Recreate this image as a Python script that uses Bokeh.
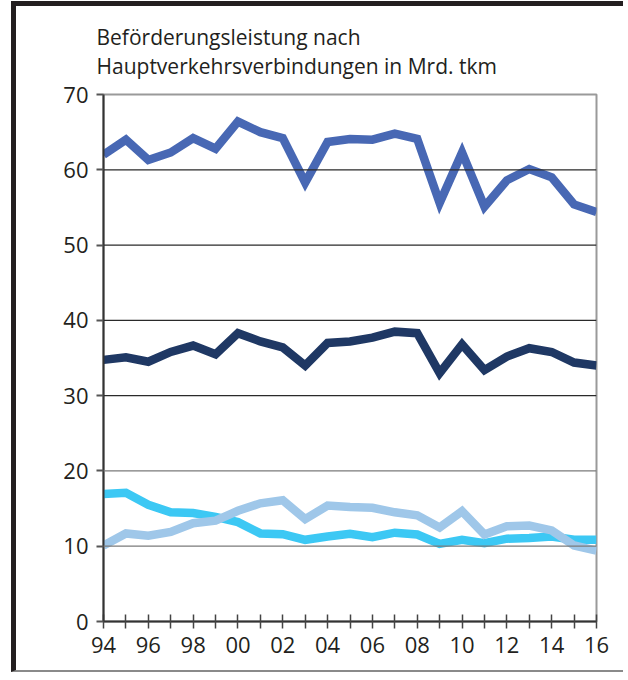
from bokeh.plotting import figure
from bokeh.models import FixedTicker, Span, Title
from bokeh.embed import file_html
from bokeh.resources import INLINE

years = list(range(1994, 2017))
x_tick_labels = {y: (f"{y % 100:02d}" if y % 2 == 0 else "") for y in years}
y_ticks = [0, 10, 20, 30, 40, 50, 60, 70]

series_a = [62.0, 64.0, 61.3, 62.3, 64.2, 62.8, 66.4, 65.0, 64.2, 58.3, 63.7, 64.1,
            64.0, 64.8, 64.1, 55.6, 62.3, 55.1, 58.6, 60.1, 59.0, 55.4, 54.4]
series_b = [34.75, 35.1, 34.5, 35.8, 36.65, 35.5, 38.3, 37.2, 36.4, 34.0, 37.0, 37.2,
            37.7, 38.5, 38.3, 33.0, 36.8, 33.4, 35.2, 36.3, 35.8, 34.4, 34.0]
series_c = [16.95, 17.1, 15.5, 14.5, 14.4, 13.9, 13.2, 11.7, 11.6, 10.85, 11.3, 11.65,
            11.2, 11.8, 11.55, 10.3, 10.85, 10.4, 11.0, 11.1, 11.3, 10.85, 10.85]
series_d = [10.1, 11.7, 11.4, 11.9, 13.05, 13.4, 14.7, 15.7, 16.1, 13.6, 15.4, 15.2,
            15.1, 14.5, 14.1, 12.5, 14.65, 11.55, 12.65, 12.75, 12.1, 10.1, 9.4]

title_lines = ["Beförderungsleistung nach", "Hauptverkehrsverbindungen in Mrd. tkm"]

FONT = "Open Sans"
TXT = "#231f20"
FS = "22px"

p = figure(width=612, height=671, output_backend="svg", toolbar_location=None,
           x_range=(1994, 2016), y_range=(0, 70), title=None,
           min_border_left=87, min_border_right=32, min_border_top=88, min_border_bottom=56)
p.styles = {"margin-left": "11px", "margin-top": "1px",
            "border-left": "5px solid #231f20", "border-top": "5px solid #231f20",
            "border-bottom": "2px solid #8a8a8a"}

p.background_fill_color = "white"
p.border_fill_color = "white"
p.outline_line_color = "#9a9a9a"
p.outline_line_width = 2

p.xgrid.grid_line_color = None
p.ygrid.grid_line_color = None
for v, c in zip(y_ticks[1:-1], ["#7a7a7a", "#7a7a7a", "#2a2a2a", "#2a2a2a", "#2a2a2a", "#2a2a2a"]):
    p.add_layout(Span(location=v, dimension="width", line_color=c, line_width=1.3))

p.yaxis.ticker = FixedTicker(ticks=y_ticks)
p.yaxis.axis_line_color = "#333333"
p.yaxis.axis_line_width = 2
p.yaxis.major_tick_in = 0
p.yaxis.major_tick_out = 7
p.yaxis.major_tick_line_color = "#555555"
p.yaxis.major_tick_line_width = 2
p.yaxis.minor_tick_line_color = None
p.yaxis.major_label_text_font = FONT
p.yaxis.major_label_text_font_size = FS
p.yaxis.major_label_text_color = TXT
p.yaxis.major_label_standoff = 8

p.xaxis.ticker = FixedTicker(ticks=years)
p.xaxis.major_label_overrides = x_tick_labels
p.xaxis.axis_line_color = "#333333"
p.xaxis.axis_line_width = 2
p.xaxis.major_tick_in = 7
p.xaxis.major_tick_out = 7
p.xaxis.major_tick_line_color = "#444444"
p.xaxis.major_tick_line_width = 1.5
p.xaxis.minor_tick_line_color = None
p.xaxis.major_label_text_font = FONT
p.xaxis.major_label_text_font_size = FS
p.xaxis.major_label_text_color = TXT
p.xaxis.major_label_standoff = 8

lw = 8.5
p.line(years, series_a, line_color="#4868b4", line_width=lw, line_join="miter")
p.line(years, series_b, line_color="#1f3864", line_width=lw, line_join="miter")
p.line(years, series_c, line_color="#3cc8f4", line_width=lw, line_join="miter")
p.line(years, series_d, line_color="#9fc7e9", line_width=lw, line_join="miter")

p.add_layout(Title(text="\n".join(title_lines), align="left", offset=-7, standoff=28,
                   text_font=FONT, text_font_size="21px", text_font_style="normal",
                   text_color=TXT, text_line_height=1.05), "above")

open("out.html", "w").write(file_html(p, INLINE))
